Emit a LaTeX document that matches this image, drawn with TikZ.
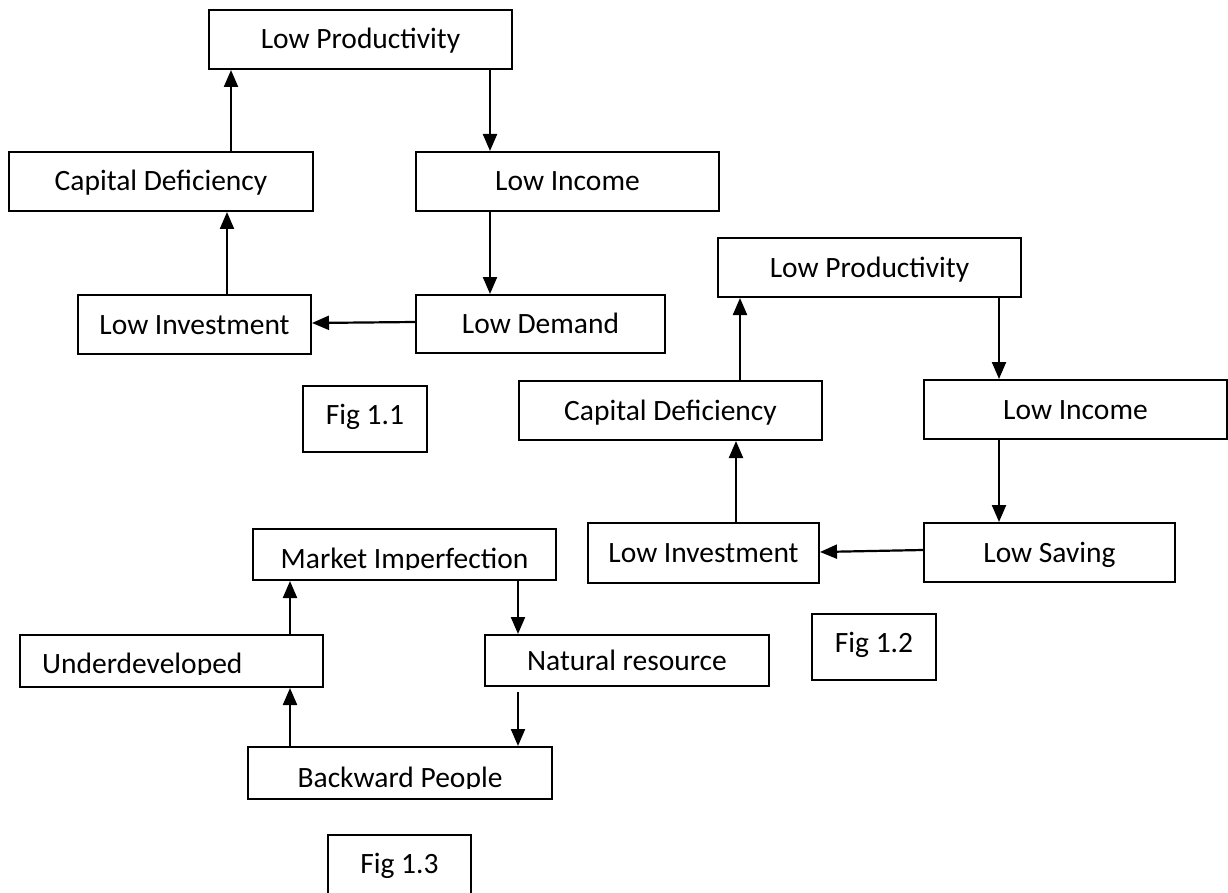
\documentclass[tikz,border=0pt]{standalone}
\usepackage{fontspec}
\setmainfont{Carlito}
\usetikzlibrary{arrows.meta}
\begin{document}
\begin{tikzpicture}[x=1pt,y=-1pt,
  box/.style={draw, line width=2pt, inner sep=0pt, font=\fontsize{29.5}{34}\selectfont, text height=19pt, text depth=0pt, align=center},
  figbox/.style={box, text depth=9pt},
  txt/.style={inner sep=0pt, font=\fontsize{29.5}{34}\selectfont},
  arr/.style={line width=2.2pt, -{Triangle[length=17pt,width=14pt]}}]
\useasboundingbox (0,0) rectangle (1228,893);
\fill[white] (0,0) rectangle (1228,893);
% Fig 1.1
\node[box, minimum width=303pt, minimum height=59pt] (lp1) at (360.5,39.5) {Low Productivity};
\node[box, minimum width=304pt, minimum height=59pt] (cd1) at (161,181.5) {Capital Deficiency};
\node[box, minimum width=303pt, minimum height=59pt] (li1) at (567.5,181.5) {Low Income};
\node[box, minimum width=233pt, minimum height=59pt] (inv1) at (194.5,324.5) {Low Investment};
\node[box, minimum width=249pt, minimum height=58pt] (ld1) at (540.5,324) {Low Demand};
\node[figbox, minimum width=124pt, minimum height=66pt] (f1) at (365,419) {Fig 1.1};
\draw[arr] ([xshift=70pt]cd1.north) -- ([xshift=-129.5pt]lp1.south);
\draw[arr] ([xshift=32.5pt]inv1.north) -- ([xshift=66pt]cd1.south);
\draw[arr] ([xshift=129.5pt]lp1.south) -- ([xshift=-77.5pt]li1.north);
\draw[arr] ([xshift=-77.5pt]li1.south) -- ([xshift=-50.5pt]ld1.north);
\draw[arr] ([yshift=2pt]ld1.west) -- ([yshift=1.5pt]inv1.east);
% Fig 1.2
\node[box, minimum width=303pt, minimum height=59pt] (lp2) at (869.5,267.5) {Low Productivity};
\node[box, minimum width=303pt, minimum height=59pt] (cd2) at (670.5,410.5) {Capital Deficiency};
\node[box, minimum width=303pt, minimum height=59pt] (li2) at (1075.5,409.5) {Low Income};
\node[box, minimum width=231pt, minimum height=60pt] (inv2) at (703.5,553) {Low Investment};
\node[box, minimum width=251pt, minimum height=59pt] (ls2) at (1049.5,552.5) {Low Saving};
\node[figbox, minimum width=124pt, minimum height=66pt] (f2) at (874,647) {Fig 1.2};
\draw[arr] ([xshift=69.5pt]cd2.north) -- ([xshift=-129.5pt]lp2.south);
\draw[arr] ([xshift=32.5pt]inv2.north) -- ([xshift=65.5pt]cd2.south);
\draw[arr] ([xshift=129.5pt]lp2.south) -- ([xshift=-76.5pt]li2.north);
\draw[arr] ([xshift=-76.5pt]li2.south) -- ([xshift=-50.5pt]ls2.north);
\draw[arr] ([yshift=2.5pt]ls2.west) -- ([yshift=1pt]inv2.east);
% Fig 1.3
\node[box, minimum width=303pt, minimum height=51pt] (mi) at (404.5,554.5) {};
\node[box, minimum width=303pt, minimum height=52pt] (ud) at (171.5,661) {};
\node[box, minimum width=284pt, minimum height=51pt] (nr) at (627,660.5) {Natural resource};
\node[box, minimum width=304pt, minimum height=52pt] (bp) at (400,773) {};
\node[figbox, minimum width=143pt, minimum height=66pt] (f3) at (399.5,868) {Fig 1.3};
\begin{scope}
\clip (253,529) rectangle (556,569);
\node[txt, anchor=base] (mi-t) at (404.5,568) {Market Imperfection};
\end{scope}
\begin{scope}
\clip (20,635) rectangle (323,674);
\node[txt, anchor=base west] (ud-t) at (42,673) {Underdeveloped};
\end{scope}
\begin{scope}
\clip (248,747) rectangle (552,788);
\node[txt, anchor=base] (bp-t) at (400,787) {Backward People};
\end{scope}
\draw[arr] ([xshift=118.5pt]ud.north) -- ([xshift=-114.5pt]mi.south);
\draw[arr] ([xshift=-110pt]bp.north) -- ([xshift=118.5pt]ud.south);
\draw[arr] ([xshift=113.5pt]mi.south) -- ([xshift=-109pt]nr.north);
\draw[arr] ([xshift=-109pt,yshift=-5pt]nr.south) -- ([xshift=118pt]bp.north);
\end{tikzpicture}
\end{document}
